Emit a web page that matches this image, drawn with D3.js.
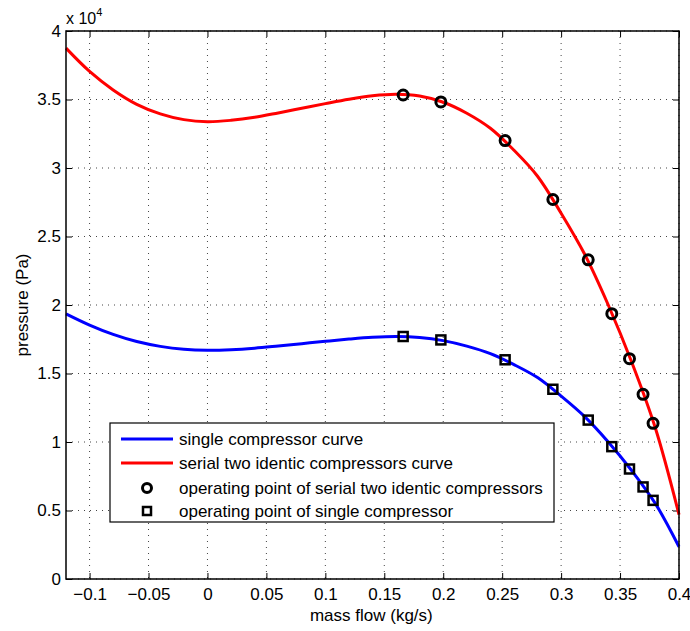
<!DOCTYPE html>
<html>
<head>
<meta charset="utf-8">
<style>
  body { margin: 0; background: #fff; }
  text { font-family: "Liberation Sans", Arial, sans-serif; }
</style>
</head>
<body>
<svg id="chart" width="690" height="631"></svg>
<script src="https://d3js.org/d3.v7.min.js"></script>
<script>
// mass flow samples (kg/s) for the two curves
var flow = [-0.12, -0.10, -0.08, -0.06, -0.04, -0.02, 0.00, 0.02, 0.04, 0.06, 0.08, 0.10, 0.12, 0.14,
            0.16, 0.18, 0.20, 0.22, 0.24, 0.26, 0.28, 0.30, 0.32, 0.34, 0.36, 0.38, 0.40];
// pressure, x 10^4 Pa
var single = [1.935, 1.853, 1.785, 1.733, 1.698, 1.677, 1.67, 1.674, 1.685, 1.701, 1.718, 1.735, 1.751, 1.764,
              1.77, 1.763, 1.74, 1.70, 1.645, 1.565, 1.47, 1.335, 1.185, 1.00, 0.79, 0.55, 0.235];
var serial = [3.875, 3.705, 3.57, 3.465, 3.395, 3.353, 3.338, 3.348, 3.37, 3.402, 3.436, 3.47, 3.502, 3.527,
              3.538, 3.525, 3.48, 3.40, 3.29, 3.13, 2.94, 2.67, 2.37, 2.00, 1.58, 1.10, 0.47];

// operating points
var opFlow = [0.166, 0.198, 0.2525, 0.293, 0.323, 0.343, 0.358, 0.3695, 0.378];
var opSerial = [3.533, 3.482, 3.20, 2.77, 2.33, 1.937, 1.608, 1.348, 1.136];
var opSingle = [1.77, 1.745, 1.60, 1.385, 1.16, 0.966, 0.803, 0.672, 0.574];

var xTicks = [-0.1, -0.05, 0, 0.05, 0.1, 0.15, 0.2, 0.25, 0.3, 0.35, 0.4];
var yTicks = [0, 0.5, 1, 1.5, 2, 2.5, 3, 3.5, 4];
var legendLabels = ["single compressor curve", "serial two identic compressors curve",
                    "operating point of serial two identic compressors", "operating point of single compressor"];

var margin = {top: 31, right: 11, bottom: 52, left: 66};
var svg = d3.select("#chart");
var width = 690 - margin.left - margin.right,
    height = 631 - margin.top - margin.bottom;

var x = d3.scaleLinear().domain([-0.12, 0.4]).range([0, width]);
var y = d3.scaleLinear().domain([0, 4]).range([height, 0]);

var g = svg.append("g").attr("transform", "translate(" + margin.left + "," + margin.top + ")");

// grid
g.append("g").selectAll("line").data(xTicks).join("line")
    .attr("x1", d => x(d)).attr("x2", d => x(d)).attr("y1", 0).attr("y2", height)
    .attr("stroke", "#444").attr("stroke-width", 1).attr("stroke-dasharray", "1,5");
g.append("g").selectAll("line").data(yTicks).join("line")
    .attr("y1", d => y(d)).attr("y2", d => y(d)).attr("x1", 0).attr("x2", width)
    .attr("stroke", "#444").attr("stroke-width", 1).attr("stroke-dasharray", "1,5");

// axes (ticks pointing inward, all four sides)
var fmt = d => (d < 0 ? "\u2212" + Math.abs(d) : String(d));
g.append("g").attr("transform", "translate(0," + height + ")")
    .call(d3.axisBottom(x).tickValues(xTicks).tickSizeInner(-6).tickSizeOuter(0).tickPadding(9).tickFormat(fmt));
g.append("g")
    .call(d3.axisLeft(y).tickValues(yTicks).tickSizeInner(-6).tickSizeOuter(0).tickPadding(5).tickFormat(d => String(d)));
g.append("g").call(d3.axisTop(x).tickValues(xTicks).tickSizeInner(-6).tickSizeOuter(0).tickFormat(""));
g.append("g").attr("transform", "translate(" + width + ",0)")
    .call(d3.axisRight(y).tickValues(yTicks).tickSizeInner(-6).tickSizeOuter(0).tickFormat(""));
g.selectAll(".domain").remove();
g.selectAll(".tick line").attr("stroke", "#000").attr("stroke-width", 1);
g.selectAll(".tick text").attr("font-size", 17).attr("fill", "#000")
    .attr("font-family", "Liberation Sans, Arial, sans-serif");

// curves
var line = d3.line().x(d => x(d[0])).y(d => y(d[1])).curve(d3.curveCatmullRom);
g.append("path").datum(d3.zip(flow, single))
    .attr("fill", "none").attr("stroke", "#0000ff").attr("stroke-width", 3).attr("d", line);
g.append("path").datum(d3.zip(flow, serial))
    .attr("fill", "none").attr("stroke", "#ff0000").attr("stroke-width", 3).attr("d", line);

// frame
g.append("rect").attr("width", width).attr("height", height)
    .attr("fill", "none").attr("stroke", "#000").attr("stroke-width", 1.5);

// operating points
g.append("g").selectAll("circle").data(d3.zip(opFlow, opSerial)).join("circle")
    .attr("cx", d => x(d[0])).attr("cy", d => y(d[1])).attr("r", 5)
    .attr("fill", "none").attr("stroke", "#000").attr("stroke-width", 3);
g.append("g").selectAll("rect").data(d3.zip(opFlow, opSingle)).join("rect")
    .attr("x", d => x(d[0]) - 4.5).attr("y", d => y(d[1]) - 4.5)
    .attr("width", 9).attr("height", 9)
    .attr("fill", "none").attr("stroke", "#000").attr("stroke-width", 2.5);

// legend
var leg = g.append("g").attr("transform", "translate(" + (110 - margin.left) + "," + (423 - margin.top) + ")");
leg.append("rect").attr("width", 444).attr("height", 99)
    .attr("fill", "#fff").attr("stroke", "#000").attr("stroke-width", 1.2);
var rowY = [16, 40, 65, 88];
leg.selectAll("text").data(legendLabels).join("text")
    .attr("x", 69).attr("y", (d, i) => rowY[i]).attr("dy", "0.35em")
    .attr("font-size", 17).text(d => d);
leg.append("line").attr("x1", 11).attr("x2", 63).attr("y1", rowY[0]).attr("y2", rowY[0])
    .attr("stroke", "#0000ff").attr("stroke-width", 3);
leg.append("line").attr("x1", 11).attr("x2", 63).attr("y1", rowY[1]).attr("y2", rowY[1])
    .attr("stroke", "#ff0000").attr("stroke-width", 3);
leg.append("circle").attr("cx", 37).attr("cy", rowY[2]).attr("r", 4.5)
    .attr("fill", "none").attr("stroke", "#000").attr("stroke-width", 3);
leg.append("rect").attr("x", 33).attr("y", rowY[3] - 4).attr("width", 8).attr("height", 8)
    .attr("fill", "none").attr("stroke", "#000").attr("stroke-width", 2.5);

// axis labels
svg.append("text").attr("x", margin.left + x(0.139)).attr("y", 621)
    .attr("text-anchor", "middle").attr("font-size", 17).text("mass flow (kg/s)");
svg.append("text").attr("transform", "translate(28," + (margin.top + y(2)) + ") rotate(-90)")
    .attr("text-anchor", "middle").attr("font-size", 17).text("pressure (Pa)");

// exponent
var ex = svg.append("text").attr("x", 66).attr("y", 24).attr("font-size", 16);
ex.append("tspan").text("x 10");
ex.append("tspan").attr("font-size", 11).attr("dy", -8).text("4");
</script>
</body>
</html>
